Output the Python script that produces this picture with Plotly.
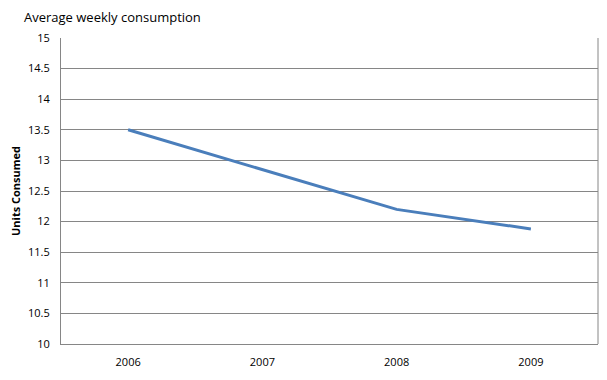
import plotly.graph_objects as go

years = ["2006", "2007", "2008", "2009"]
units = [13.5, 12.85, 12.2, 11.88]

fig = go.Figure()
fig.add_trace(go.Scatter(x=years, y=units, mode="lines",
                         line=dict(color="#4A7EBB", width=3), showlegend=False))

font_family = "Open Sans, Liberation Sans, sans-serif"
fig.update_layout(
    width=607, height=380,
    margin=dict(l=53, r=17, t=30, b=44, autoexpand=False),
    paper_bgcolor="white", plot_bgcolor="white",
    font=dict(family=font_family, size=11, color="#000000"),
    xaxis=dict(type="category", range=[-0.5, 3.5], showgrid=False, showline=True,
               linecolor="#868686", linewidth=1, ticks="", tickfont=dict(size=11),
               ticklabelstandoff=8, automargin=False),
    yaxis=dict(range=[10, 15], dtick=0.5, showgrid=True, gridcolor="#868686",
               gridwidth=1, showline=True, linecolor="#868686", linewidth=1,
               zeroline=False, ticks="", tickfont=dict(size=11), automargin=False,
               tickformat="~g", ticklabelstandoff=8,
               title=dict(text="<b>Units Consumed</b>", font=dict(size=11), standoff=12)),
)
fig.add_annotation(text="Average weekly consumption", xref="paper", yref="paper",
                   x=-0.073, y=1.0, xanchor="left", yanchor="bottom", yshift=10,
                   showarrow=False, font=dict(family=font_family, size=13, color="#000000"))
fig.add_shape(type="line", xref="paper", yref="paper", x0=1, x1=1, y0=0, y1=1,
              line=dict(color="#868686", width=1), layer="below")
fig.write_html("out.html")
